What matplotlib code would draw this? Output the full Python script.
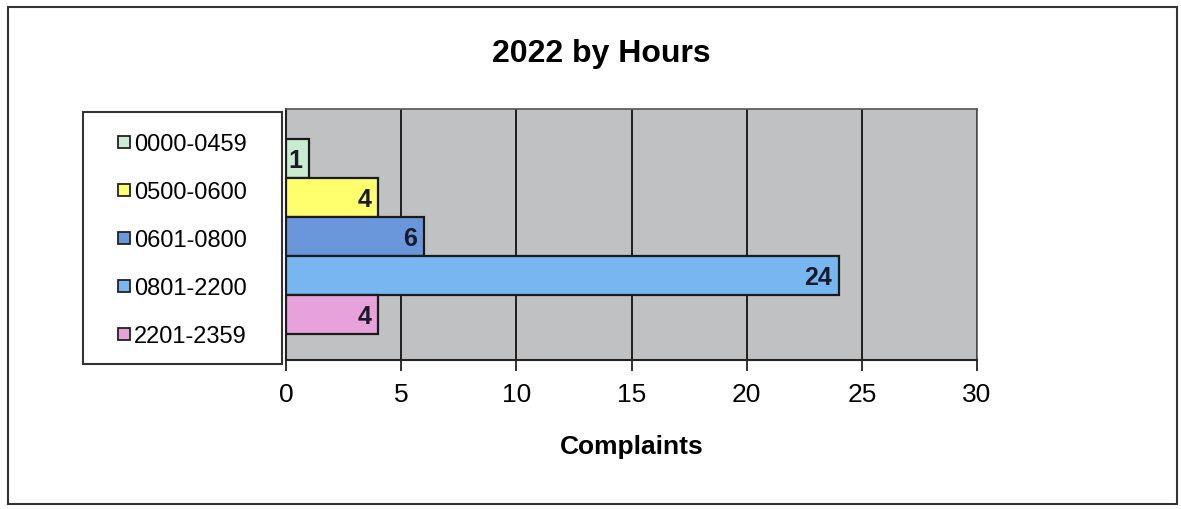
import matplotlib.pyplot as plt
from matplotlib.patches import Rectangle
from matplotlib.lines import Line2D

plt.rcParams['font.family'] = ['Liberation Sans', 'DejaVu Sans']

hours = ['0000-0459', '0500-0600', '0601-0800', '0801-2200', '2201-2359']
complaints = [1, 4, 6, 24, 4]
colors = ['#c9ecd0', '#ffff6e', '#6a96dc', '#78b6f2', '#e7a2dc']
xticks = [0, 5, 10, 15, 20, 25, 30]

fig = plt.figure(figsize=(11.81, 5.10), dpi=100)
ax = fig.add_axes([0.2422, 0.2922, 0.5851, 0.4922])
ax.set_facecolor('#c0c1c3')

pos = list(range(len(hours)))
bars = ax.barh(pos, complaints, height=1.0, color=colors, edgecolor='#1a1a1a', linewidth=1.6, zorder=3)
for b, v in zip(bars, complaints):
    ax.text(b.get_width() - 0.3, b.get_y() + b.get_height() / 2 + 0.05, str(v),
            ha='right', va='center', fontsize=18, fontweight='bold', color='#1a1a2a', zorder=4)

ax.set_ylim(4.5 + 0.67, -0.5 - 0.77)
ax.set_xlim(0, 30)
ax.set_xticks(xticks)
ax.set_xticklabels([str(t) for t in xticks], fontsize=19)
ax.set_yticks([])
ax.grid(axis='x', color='#111111', linewidth=1.3, zorder=1)
ax.tick_params(axis='x', direction='out', length=8, width=1.3, pad=8, color='#222222')
for s in ['top', 'right']:
    ax.spines[s].set_color('#555555')
    ax.spines[s].set_linewidth(1.2)
for s in ['left', 'bottom']:
    ax.spines[s].set_color('#222222')
    ax.spines[s].set_linewidth(1.5)

ax.set_xlabel('Complaints', fontsize=19, fontweight='bold', labelpad=20)
fig.text(0.5095, 0.895, '2022 by Hours', ha='center', va='center', fontsize=23, fontweight='bold')

# legend box
fig.add_artist(Rectangle((0.0703, 0.2843), 0.1685, 0.4941, transform=fig.transFigure,
                         facecolor='white', edgecolor='#333333', linewidth=1.5, zorder=2))
handles = [Line2D([], [], marker='s', linestyle='none', markersize=9,
                  markerfacecolor=c, markeredgecolor='#222222', markeredgewidth=1.3) for c in colors]
fig.legend(handles, hours, loc='center', bbox_to_anchor=(0.154, 0.5275), frameon=False,
           fontsize=17, handlelength=0.6, handletextpad=0.15, labelspacing=1.1)

# outer border
fig.add_artist(Rectangle((0.007, 0.01), 0.990, 0.975, transform=fig.transFigure,
                         facecolor='none', edgecolor='#333333', linewidth=1.5))

fig.savefig('out.png', dpi=100)
